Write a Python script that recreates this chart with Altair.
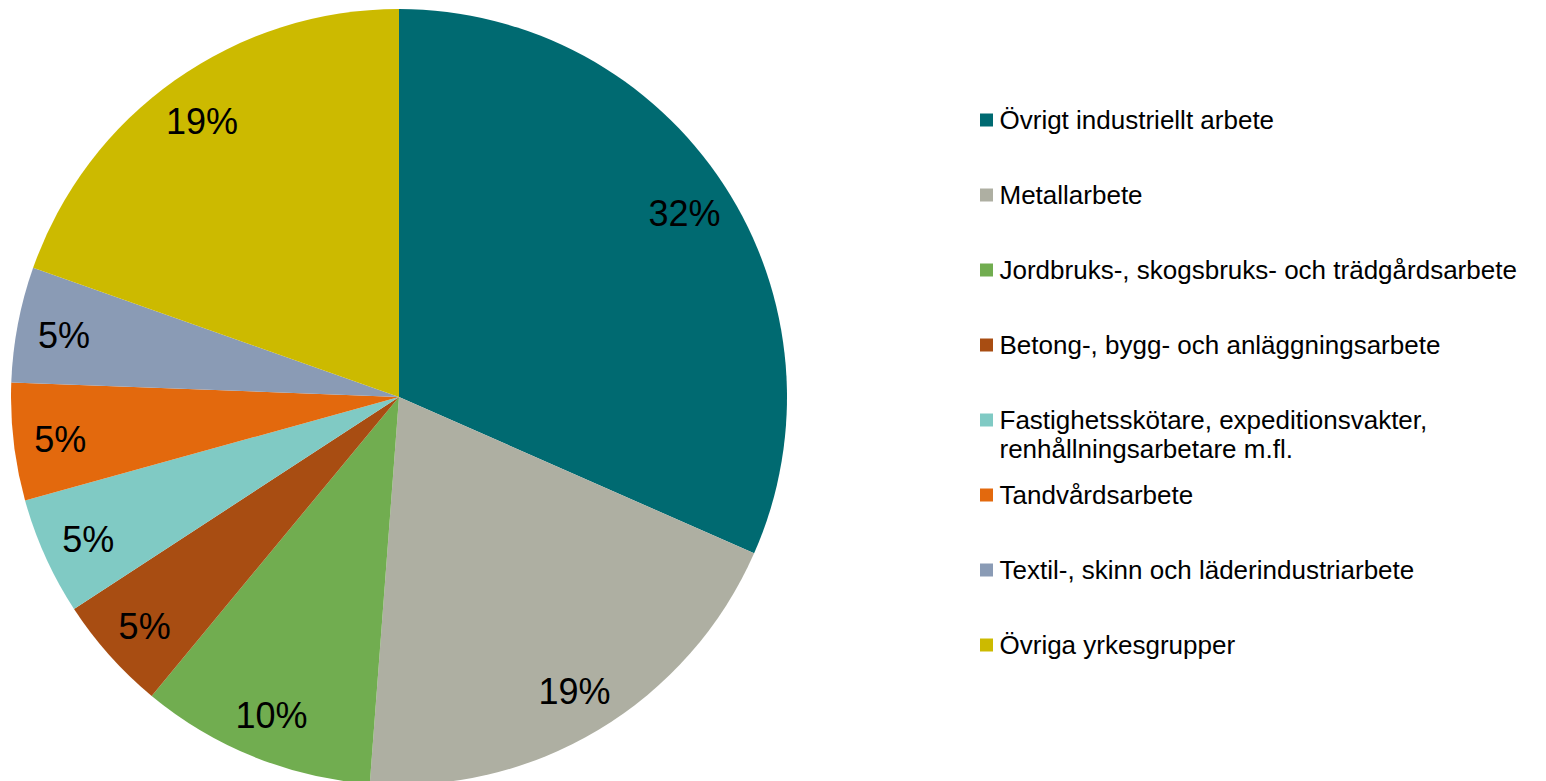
import altair as alt
import pandas as pd

categories = [
    "Övrigt industriellt arbete",
    "Metallarbete",
    "Jordbruks-, skogsbruks- och trädgårdsarbete",
    "Betong-, bygg- och anläggningsarbete",
    "Fastighetsskötare, expeditionsvakter, renhållningsarbetare m.fl.",
    "Tandvårdsarbete",
    "Textil-, skinn och läderindustriarbete",
    "Övriga yrkesgrupper",
]
legend_labels = [
    "Övrigt industriellt arbete",
    "Metallarbete",
    "Jordbruks-, skogsbruks- och trädgårdsarbete",
    "Betong-, bygg- och anläggningsarbete",
    "Fastighetsskötare, expeditionsvakter,\nrenhållningsarbetare m.fl.",
    "Tandvårdsarbete",
    "Textil-, skinn och läderindustriarbete",
    "Övriga yrkesgrupper",
]
values = [31.6, 19.6, 9.8, 4.8, 4.9, 4.9, 4.8, 19.6]
pct_labels = ["32%", "19%", "10%", "5%", "5%", "5%", "5%", "19%"]
colors = ["#006A71", "#AEAFA2", "#71AD50", "#A84D12", "#80CAC4", "#E3690D", "#8A9BB5", "#CCBA00"]

df = pd.DataFrame({
    "category": categories,
    "legend": legend_labels,
    "value": values,
    "label": pct_labels,
    "order": list(range(len(categories))),
})

color = alt.Color("category:N", scale=alt.Scale(domain=categories, range=colors), legend=None)

base = alt.Chart(df).encode(
    theta=alt.Theta("value:Q", stack=True),
    order=alt.Order("order:Q"),
)
arcs = base.mark_arc(radius=388, stroke=None).encode(color=color)
texts = base.mark_text(radius=341, dy=4, fontSize=36, font="Liberation Sans", color="#000000").encode(
    text="label:N"
)
pie = (arcs + texts).properties(width=782, height=778)

leg_base = alt.Chart(df).encode(
    y=alt.Y("category:N", sort=categories, axis=None,
            scale=alt.Scale(range=[112, 637], padding=0)),
)
leg_sym = leg_base.mark_square(size=169, opacity=1).encode(color=color)
leg_txt = leg_base.mark_text(
    align="left", baseline="alphabetic", dx=13, dy=9, fontSize=26,
    font="Liberation Sans", color="#000000", lineBreak="\n", lineHeight=29,
).encode(text="legend:N")
legend = (leg_sym + leg_txt).properties(width=13, height=778)

chart = alt.hconcat(pie, legend, spacing=190).properties(padding=0).configure_view(stroke=None)

chart.save("out.html", embed_options={"renderer": "svg", "actions": False})
